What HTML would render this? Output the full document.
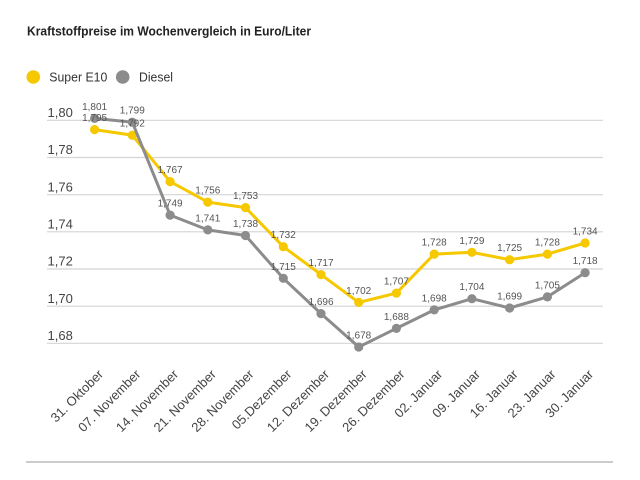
<!DOCTYPE html>
<html><head><meta charset="utf-8"><style>
html,body{margin:0;padding:0;background:#fff;}
svg{display:block;font-family:"Liberation Sans",sans-serif;}
</style></head><body>
<svg width="640" height="480" viewBox="0 0 640 480" xmlns="http://www.w3.org/2000/svg">
<rect width="640" height="480" fill="#fff"/>
<text x="27" y="35.5" font-size="13" font-weight="bold" fill="#222" textLength="284" lengthAdjust="spacingAndGlyphs">Kraftstoffpreise im Wochenvergleich in Euro/Liter</text>
<circle cx="33.3" cy="77" r="6.8" fill="#f5c800"/>
<text x="49.3" y="81.5" font-size="12.5" fill="#333" textLength="58" lengthAdjust="spacingAndGlyphs">Super E10</text>
<circle cx="122.7" cy="77" r="6.8" fill="#8c8c8c"/>
<text x="139" y="81.5" font-size="12.5" fill="#333" textLength="34" lengthAdjust="spacingAndGlyphs">Diesel</text>
<g stroke="#d4d4d4" stroke-width="1.2">
<line x1="47" y1="120.3" x2="603" y2="120.3"/>
<line x1="47" y1="157.5" x2="603" y2="157.5"/>
<line x1="47" y1="194.7" x2="603" y2="194.7"/>
<line x1="47" y1="231.8" x2="603" y2="231.8"/>
<line x1="47" y1="269" x2="603" y2="269"/>
<line x1="47" y1="306.2" x2="603" y2="306.2"/>
<line x1="47" y1="343.3" x2="603" y2="343.3"/>
</g>
<g font-size="13" fill="#444">
<text x="47.5" y="117">1,80</text>
<text x="47.5" y="154.2">1,78</text>
<text x="47.5" y="191.4">1,76</text>
<text x="47.5" y="228.5">1,74</text>
<text x="47.5" y="265.7">1,72</text>
<text x="47.5" y="302.9">1,70</text>
<text x="47.5" y="340">1,68</text>
</g>
<line x1="26" y1="462" x2="613" y2="462" stroke="#cccccc" stroke-width="2"/>
<polyline fill="none" stroke="#f5c800" stroke-width="3" stroke-linejoin="round" points="94.6,129.6 132.3,135.2 170.1,181.6 207.8,202.1 245.5,207.6 283.3,246.7 321,274.6 358.7,302.4 396.4,293.1 434.2,254.1 471.9,252.3 509.6,259.7 547.4,254.1 585.1,243"/>
<g fill="#f5c800">
<circle cx="94.6" cy="129.6" r="4.6"/><circle cx="132.3" cy="135.2" r="4.6"/><circle cx="170.1" cy="181.6" r="4.6"/><circle cx="207.8" cy="202.1" r="4.6"/><circle cx="245.5" cy="207.6" r="4.6"/><circle cx="283.3" cy="246.7" r="4.6"/><circle cx="321" cy="274.6" r="4.6"/><circle cx="358.7" cy="302.4" r="4.6"/><circle cx="396.4" cy="293.1" r="4.6"/><circle cx="434.2" cy="254.1" r="4.6"/><circle cx="471.9" cy="252.3" r="4.6"/><circle cx="509.6" cy="259.7" r="4.6"/><circle cx="547.4" cy="254.1" r="4.6"/><circle cx="585.1" cy="243" r="4.6"/>
</g>
<polyline fill="none" stroke="#8c8c8c" stroke-width="3" stroke-linejoin="round" points="94.6,118.4 132.3,122.2 170.1,215.1 207.8,229.9 245.5,235.5 283.3,278.3 321,313.6 358.7,347 396.4,328.4 434.2,309.9 471.9,298.7 509.6,308 547.4,296.9 585.1,272.7"/>
<g fill="#8c8c8c">
<circle cx="94.6" cy="118.4" r="4.6"/><circle cx="132.3" cy="122.2" r="4.6"/><circle cx="170.1" cy="215.1" r="4.6"/><circle cx="207.8" cy="229.9" r="4.6"/><circle cx="245.5" cy="235.5" r="4.6"/><circle cx="283.3" cy="278.3" r="4.6"/><circle cx="321" cy="313.6" r="4.6"/><circle cx="358.7" cy="347" r="4.6"/><circle cx="396.4" cy="328.4" r="4.6"/><circle cx="434.2" cy="309.9" r="4.6"/><circle cx="471.9" cy="298.7" r="4.6"/><circle cx="509.6" cy="308" r="4.6"/><circle cx="547.4" cy="296.9" r="4.6"/><circle cx="585.1" cy="272.7" r="4.6"/>
</g>
<g font-size="10" fill="#555" text-anchor="middle">
<text x="94.6" y="121.2">1,795</text><text x="132.3" y="126.7">1,792</text><text x="170.1" y="173.1">1,767</text><text x="207.8" y="193.6">1,756</text><text x="245.5" y="199.1">1,753</text><text x="283.3" y="238.2">1,732</text><text x="321" y="266.1">1,717</text><text x="358.7" y="293.9">1,702</text><text x="396.4" y="284.6">1,707</text><text x="434.2" y="245.6">1,728</text><text x="471.9" y="243.8">1,729</text><text x="509.6" y="251.2">1,725</text><text x="547.4" y="245.6">1,728</text><text x="585.1" y="234.5">1,734</text>
<text x="94.6" y="109.9">1,801</text><text x="132.3" y="113.7">1,799</text><text x="170.1" y="206.6">1,749</text><text x="207.8" y="221.4">1,741</text><text x="245.5" y="227">1,738</text><text x="283.3" y="269.8">1,715</text><text x="321" y="305.1">1,696</text><text x="358.7" y="338.5">1,678</text><text x="396.4" y="319.9">1,688</text><text x="434.2" y="301.4">1,698</text><text x="471.9" y="290.2">1,704</text><text x="509.6" y="299.5">1,699</text><text x="547.4" y="288.4">1,705</text><text x="585.1" y="264.2">1,718</text>
</g>
<g font-size="13" fill="#444" text-anchor="end">
<text transform="translate(104,375) rotate(-45)">31. Oktober</text>
<text transform="translate(141.3,375) rotate(-45)">07. November</text>
<text transform="translate(179.1,375) rotate(-45)">14. November</text>
<text transform="translate(216.8,375) rotate(-45)">21. November</text>
<text transform="translate(254.5,375) rotate(-45)">28. November</text>
<text transform="translate(292.3,375) rotate(-45)">05.Dezember</text>
<text transform="translate(330,375) rotate(-45)">12. Dezember</text>
<text transform="translate(367.7,375) rotate(-45)">19. Dezember</text>
<text transform="translate(405.4,375) rotate(-45)">26. Dezember</text>
<text transform="translate(443.2,375) rotate(-45)">02. Januar</text>
<text transform="translate(480.9,375) rotate(-45)">09. Januar</text>
<text transform="translate(518.6,375) rotate(-45)">16. Januar</text>
<text transform="translate(556.4,375) rotate(-45)">23. Januar</text>
<text transform="translate(594.1,375) rotate(-45)">30. Januar</text>
</g>
</svg>
</body></html>
